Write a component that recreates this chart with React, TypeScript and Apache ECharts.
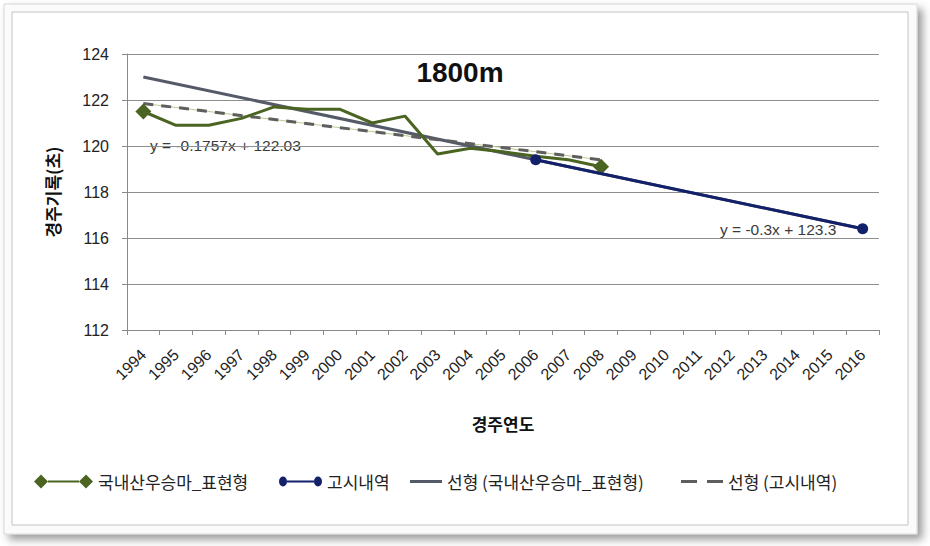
import React, { useEffect, useRef } from "react";
import * as echarts from "echarts";

const years = ["1994","1995","1996","1997","1998","1999","2000","2001","2002","2003","2004","2005","2006","2007","2008","2009","2010","2011","2012","2013","2014","2015","2016"];
const raceVals = [121.5, 120.9, 120.9, 121.2, 121.7, 121.6, 121.6, 121.0, 121.3, 119.65, 119.9, 119.75, 119.55, 119.4, 119.1, null, null, null, null, null, null, null, null];
const noticeVals = [null, null, null, null, null, null, null, null, null, null, null, null, 119.4, null, null, null, null, null, null, null, null, null, 116.4];
const trendSolid = [123.0, null, null, null, null, null, null, null, null, null, null, null, null, null, null, null, null, null, null, null, null, null, 116.4];
const trendDashed = [121.85, null, null, null, null, null, null, null, null, null, null, null, null, null, 119.4, null, null, null, null, null, null, null, null];
const yTicks = { min: 112, max: 124, interval: 2 };
const titleText = "1800m";
const eqRace = "y = -0.1757x + 122.03";
const eqNotice = "y = -0.3x + 123.3";
const nameRace = "국내산우승마_표현형";
const nameNotice = "고시내역";
const nameTrendA = "선형 (국내산우승마_표현형)";
const nameTrendB = "선형 (고시내역)";

const KFONT = "'Noto Sans CJK KR', 'Noto Sans', sans-serif";
const AFONT = "Arial, 'Liberation Sans', sans-serif";

export default function App() {
  const ref = useRef<HTMLDivElement>(null);
  useEffect(() => {
    if (!ref.current) return;
    const chart = echarts.init(ref.current, undefined, { renderer: "svg" });
    const endsOnly = (arr: (number | null)[], size: number) => {
      const idx = arr.map((v, i) => (v == null ? -1 : i)).filter((i) => i >= 0);
      const first = idx[0];
      const last = idx[idx.length - 1];
      return (_v: any, p: any) => (p.dataIndex === first || p.dataIndex === last ? size : 0);
    };
    const legendText = { fontFamily: KFONT, fontSize: 17, color: "#222" };
    const H = 14;
    const mkLegend = (name: string, icon: string, left: number, w: number) => ({
      left,
      top: 480 - H / 2,
      padding: 0,
      itemWidth: w,
      itemHeight: H,
      symbolKeepAspect: false,
      textStyle: legendText,
      data: [{ name, icon }],
    });
    // zero-area sub-paths at (0,0) and (w,14) keep each icon's box at full item height
    const box = (w: number) => `M0,0 L0.01,0 L0,0.01 Z M${w},14 L${w - 0.01},14 L${w},13.99 Z `;
    chart.setOption({
      animation: false,
      backgroundColor: "#ffffff",
      title: {
        text: titleText,
        left: 455,
        top: 53,
        textAlign: "center",
        textStyle: { fontFamily: AFONT, fontWeight: "bold", fontSize: 28, color: "#111" },
      },
      graphic: [
        {
          type: "rect",
          z: -10,
          shape: { x: 4, y: 4, width: 913, height: 530 },
          style: { fill: "#fbfbfb", stroke: "#d6d6d6", lineWidth: 1, shadowBlur: 8, shadowOffsetX: 5, shadowOffsetY: 5, shadowColor: "rgba(0,0,0,0.4)" },
        },
        {
          type: "rect",
          z: -9,
          shape: { x: 12, y: 12, width: 896, height: 513 },
          style: { fill: "#ffffff", stroke: "#c4c4c4", lineWidth: 1 },
        },
        {
          type: "text",
          x: 150,
          y: 137,
          style: { text: eqRace, fontSize: 15.5, fill: "#3a3a3a", fontFamily: AFONT },
        },
        {
          type: "text",
          x: 720,
          y: 221,
          style: { text: eqNotice, fontSize: 15.5, fill: "#3a3a3a", fontFamily: AFONT },
        },
      ],
      grid: { left: 127, right: 51, top: 54, bottom: 216, containLabel: false },
      xAxis: {
        type: "category",
        data: years,
        boundaryGap: true,
        name: "경주연도",
        nameLocation: "middle",
        nameGap: 85,
        nameTextStyle: { fontFamily: KFONT, fontWeight: "bold", fontSize: 17, color: "#111" },
        axisLine: { lineStyle: { color: "#8a8a8a", width: 1 } },
        axisTick: { show: true, length: 5, alignWithLabel: false, lineStyle: { color: "#8a8a8a" } },
        axisLabel: { rotate: 45, fontSize: 16, color: "#222", margin: 22, interval: 0, fontFamily: AFONT },
        splitLine: { show: false },
      },
      yAxis: {
        type: "value",
        min: yTicks.min,
        max: yTicks.max,
        interval: yTicks.interval,
        name: "경주기록(초)",
        nameLocation: "middle",
        nameGap: 66,
        nameTextStyle: { fontFamily: KFONT, fontWeight: "bold", fontSize: 17, color: "#111" },
        axisLine: { show: true, lineStyle: { color: "#8a8a8a", width: 1 } },
        axisTick: { show: true, length: 5, lineStyle: { color: "#8a8a8a" } },
        axisLabel: { fontSize: 16, color: "#222", margin: 18, fontFamily: AFONT },
        splitLine: { show: true, lineStyle: { color: "#8e8e8e", width: 1 } },
      },
      legend: [
        mkLegend(nameRace, "path://" + box(59) + "M0,7 L7,0 L14,7 L7,14 Z M14,6 L45,6 L45,8 L14,8 Z M45,7 L52,0 L59,7 L52,14 Z", 34, 59),
        mkLegend(nameNotice, "path://" + box(43) + "M0,7 A4,5 0 1 1 8,7 A4,5 0 1 1 0,7 Z M8,6 L35,6 L35,8 L8,8 Z M35,7 A4,5 0 1 1 43,7 A4,5 0 1 1 35,7 Z", 279, 43),
        mkLegend(nameTrendA, "path://" + box(32) + "M0,5.5 L32,5.5 L32,8.5 L0,8.5 Z", 410, 32),
        mkLegend(nameTrendB, "path://" + box(42) + "M0,5.5 L16,5.5 L16,8.5 L0,8.5 Z M26,5.5 L42,5.5 L42,8.5 L26,8.5 Z", 681, 42),
      ],
      series: [
        {
          name: "trendThin",
          type: "line",
          data: trendDashed,
          connectNulls: true,
          showSymbol: false,
          symbol: "none",
          z: 3,
          lineStyle: { color: "#b9cc8c", width: 1 },
          silent: true,
        },
        {
          name: nameTrendB,
          type: "line",
          data: trendDashed,
          connectNulls: true,
          symbol: "none",
          z: 4,
          itemStyle: { color: "#5e5e5e" },
          lineStyle: { color: "#5e5e5e", width: 3, type: [10, 8] },
        },
        {
          name: nameTrendA,
          type: "line",
          data: trendSolid,
          connectNulls: true,
          symbol: "none",
          z: 3,
          itemStyle: { color: "#555a68" },
          lineStyle: { color: "#555a68", width: 3 },
        },
        {
          name: nameRace,
          type: "line",
          data: raceVals,
          z: 5,
          symbol: "diamond",
          symbolSize: endsOnly(raceVals, 16),
          showAllSymbol: true,
          itemStyle: { color: "#4b6421" },
          lineStyle: { color: "#4b6421", width: 3 },
        },
        {
          name: nameNotice,
          type: "line",
          data: noticeVals,
          connectNulls: true,
          z: 6,
          symbol: "circle",
          symbolSize: 11,
          itemStyle: { color: "#13216a" },
          lineStyle: { color: "#13216a", width: 3 },
        },
      ],
    });
    return () => chart.dispose();
  }, []);
  return <div ref={ref} style={{ position: "fixed", left: 0, top: 0, width: 930, height: 546 }} />;
}
